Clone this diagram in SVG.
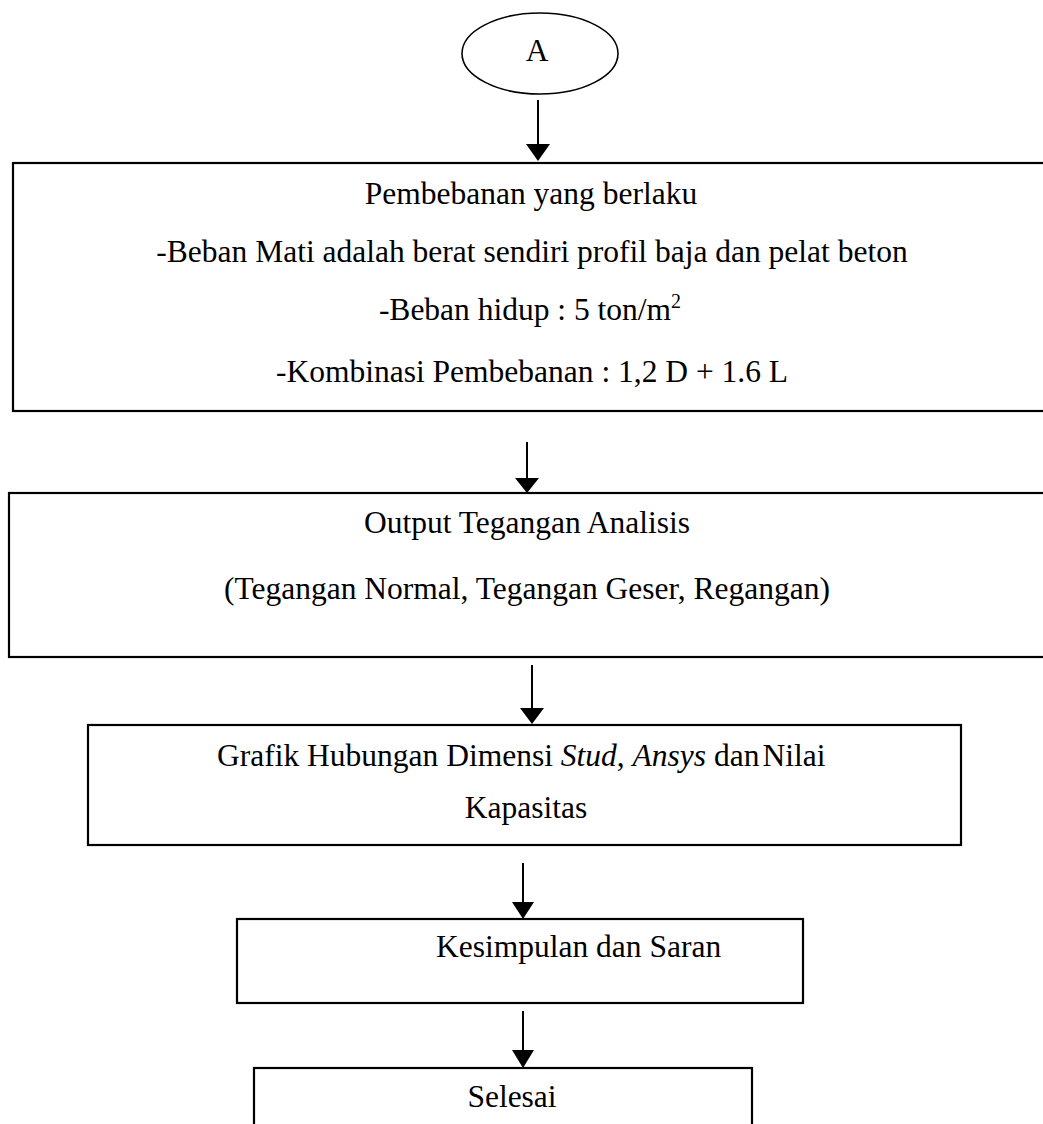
<svg xmlns="http://www.w3.org/2000/svg" width="1043" height="1124" viewBox="0 0 1043 1124">
<defs>
<style>
.t{font-family:"Liberation Serif","Times New Roman",serif;font-size:31.5px;fill:#000}
.c{text-anchor:middle}
.box{fill:#fff;stroke:#000;stroke-width:2.2}
.ln{stroke:#000;stroke-width:2}
.hd{fill:#000}
</style>
</defs>
<rect width="1043" height="1124" fill="#fff"/>
<g id="connectors">
<line class="ln" x1="538" y1="100" x2="538" y2="146" stroke-width="2.6"/>
<polygon class="hd" points="526,144 550,144 538,161"/>
<line class="ln" x1="527" y1="442" x2="527" y2="480"/>
<polygon class="hd" points="515,478 539,478 527,493"/>
<line class="ln" x1="532" y1="665" x2="532" y2="710"/>
<polygon class="hd" points="520,708 544,708 532,724"/>
<line class="ln" x1="523" y1="863" x2="523" y2="904" stroke-width="1.6"/>
<polygon class="hd" points="512,902 534,902 523,919"/>
<line class="ln" x1="523" y1="1011" x2="523" y2="1052" stroke-width="1.6"/>
<polygon class="hd" points="512,1050 534,1050 523,1068"/>
</g>
<g id="nodeA">
<ellipse cx="540" cy="53.5" rx="78" ry="40.5" fill="#fff" stroke="#000" stroke-width="1.6"/>
<text class="t c" x="537" y="61">A</text>
</g>
<g id="pembebanan">
<rect class="box" x="13" y="163" width="1045" height="248"/>
<text class="t c" x="531" y="204">Pembebanan yang berlaku</text>
<text class="t c" x="532" y="262">-Beban Mati adalah berat sendiri profil baja dan pelat beton</text>
<text class="t c" x="530" y="320">-Beban hidup : 5 ton/m<tspan font-size="20" dy="-12">2</tspan></text>
<text class="t c" x="532" y="382">-Kombinasi Pembebanan : 1,2 D + 1.6 L</text>
</g>
<g id="output">
<rect class="box" x="9" y="493" width="1049" height="164"/>
<text class="t c" x="527" y="533">Output Tegangan Analisis</text>
<text class="t c" x="527" y="599">(Tegangan Normal, Tegangan Geser, Regangan)</text>
</g>
<g id="grafik">
<rect class="box" x="88" y="725" width="873" height="120"/>
<text class="t" x="217" y="766">Grafik Hubungan Dimensi <tspan font-style="italic">Stud</tspan>, <tspan font-style="italic">Ansys</tspan> dan<tspan dx="3">Nilai</tspan></text>
<text class="t c" x="526" y="818">Kapasitas</text>
</g>
<g id="kesimpulan">
<rect class="box" x="237" y="919" width="566" height="84"/>
<text class="t" x="436" y="957">Kesimpulan dan Saran</text>
</g>
<g id="selesai">
<rect class="box" x="254" y="1068" width="498" height="70"/>
<text class="t c" x="512" y="1107">Selesai</text>
</g>
</svg>
